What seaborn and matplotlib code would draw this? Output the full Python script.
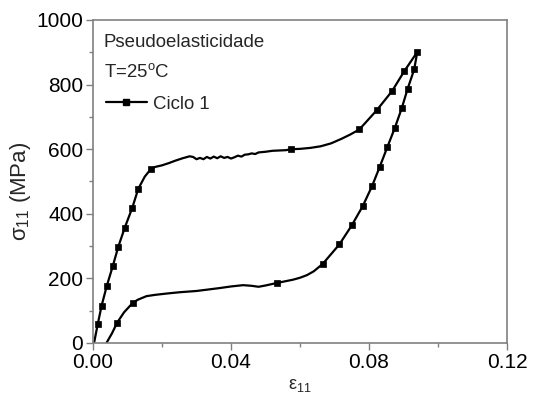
import numpy as np
import pandas as pd
import matplotlib
matplotlib.use("Agg")
import matplotlib.pyplot as plt
import seaborn as sns
from matplotlib.lines import Line2D

# ---- data ----
# continuous curve: loading branch then unloading branch
strain_curve = [0.0003, 0.00136, 0.0025, 0.004, 0.0057, 0.0073, 0.0092, 0.0114, 0.0131, 0.0150, 0.0168,
                0.018, 0.020, 0.022, 0.024, 0.026, 0.028, 0.029, 0.030, 0.031, 0.032, 0.033, 0.034,
                0.035, 0.036, 0.037, 0.038, 0.039, 0.040, 0.041, 0.042, 0.043, 0.044, 0.045, 0.046,
                0.047, 0.048, 0.050, 0.052, 0.054, 0.056, 0.0573, 0.060, 0.063, 0.066, 0.069, 0.072,
                0.0745, 0.0772, 0.0822, 0.0867, 0.0902, 0.094,
                0.0931, 0.0912, 0.0895, 0.0875, 0.0853, 0.0831, 0.0809, 0.0782, 0.075, 0.0714,
                0.0666, 0.064, 0.062, 0.060, 0.058, 0.0534, 0.050, 0.048, 0.046, 0.0435, 0.040,
                0.0367, 0.033, 0.030, 0.025, 0.0213, 0.018, 0.0155, 0.013, 0.0115, 0.009, 0.007,
                0.0055, 0.0039]
stress_curve = [0, 58, 116, 177, 237, 297, 357, 419, 477, 515, 539,
                545, 550, 557, 565, 572, 578, 576, 569, 573, 569, 576, 571,
                577, 572, 578, 573, 576, 571, 575, 580, 577, 583, 584, 587,
                585, 590, 592, 595, 596, 597, 600, 601, 604, 609, 618, 632,
                645, 661, 720, 780, 841, 901,
                847, 787, 727, 666, 606, 545, 486, 424, 364, 305,
                245, 222, 210, 202, 196, 186, 178, 174, 177, 179, 175,
                170, 165, 161, 157, 153, 149, 145, 134, 124, 95, 63,
                30, 0]

# marked points
strain_marks = [0.00136, 0.0025, 0.004, 0.0057, 0.0073, 0.0092, 0.0114, 0.0131, 0.0168, 0.0573,
                0.0772, 0.0822, 0.0867, 0.0902, 0.094,
                0.0931, 0.0912, 0.0895, 0.0875, 0.0853, 0.0831, 0.0809, 0.0782, 0.075, 0.0714,
                0.0666, 0.0534, 0.0115, 0.007]
stress_marks = [58, 116, 177, 237, 297, 357, 419, 477, 539, 600,
                661, 720, 780, 841, 901,
                847, 787, 727, 666, 606, 545, 486, 424, 364, 305,
                245, 186, 124, 63]

x_ticks = [0.00, 0.04, 0.08, 0.12]
x_tick_labels = ["0.00", "0.04", "0.08", "0.12"]
y_ticks = [0, 200, 400, 600, 800, 1000]

sns.set_theme(style="ticks")
plt.rcParams['font.family'] = ['Liberation Sans', 'DejaVu Sans']
plt.rcParams['mathtext.fontset'] = 'custom'
plt.rcParams['mathtext.rm'] = 'Liberation Sans'
plt.rcParams['mathtext.it'] = 'Liberation Sans'

curve = pd.DataFrame({"strain": strain_curve, "stress": stress_curve})
marks = pd.DataFrame({"strain": strain_marks, "stress": stress_marks})

fig = plt.figure(figsize=(5.34, 3.99), dpi=100)
ax = fig.add_axes([0.1742, 0.1404, 0.9494 - 0.1742, 0.9499 - 0.1404])

sns.lineplot(data=curve, x="strain", y="stress", sort=False, estimator=None,
             color="black", linewidth=1.6, ax=ax)
sns.scatterplot(data=marks, x="strain", y="stress", marker="s", s=20, color="black",
                edgecolor="black", linewidth=0.5, ax=ax, zorder=3)

ax.set_xlim(0, 0.12)
ax.set_ylim(0, 1000)
ax.set_xticks(x_ticks)
ax.set_xticklabels(x_tick_labels)
ax.set_yticks(y_ticks)
ax.set_xticks([0.02, 0.06, 0.10], minor=True)
ax.set_yticks([100, 300, 500, 700, 900], minor=True)
ax.tick_params(axis="both", which="major", direction="out", length=5, width=1,
               color="#808080", labelsize=15, pad=2, labelcolor="black")
ax.tick_params(axis="both", which="minor", direction="out", length=3, width=1, color="#808080")
for sp in ax.spines.values():
    sp.set_color("#808080")
    sp.set_linewidth(1.2)
    sp.set_visible(True)

ax.set_xlabel("ε$_{11}$", fontsize=13, labelpad=4)
ax.set_ylabel("σ$_{11}$ (MPa)", fontsize=16)
ax.yaxis.set_label_coords(-0.145, 0.47)

ax.text(0.026, 0.929, "Pseudoelasticidade", transform=ax.transAxes, fontsize=13.4, va="center")
ax.text(0.026, 0.839, "T=25$^{\\mathrm{o}}$C", transform=ax.transAxes, fontsize=13.4, va="center")
handle = Line2D([], [], color="black", linewidth=1.6, marker="s", markersize=4)
ax.legend([handle], ["Ciclo 1"], loc="upper left", bbox_to_anchor=(0.004, 0.80),
          frameon=False, fontsize=13.4, handlelength=2.2, handletextpad=0.35, borderaxespad=0.2)

fig.savefig("out.png", dpi=100)
